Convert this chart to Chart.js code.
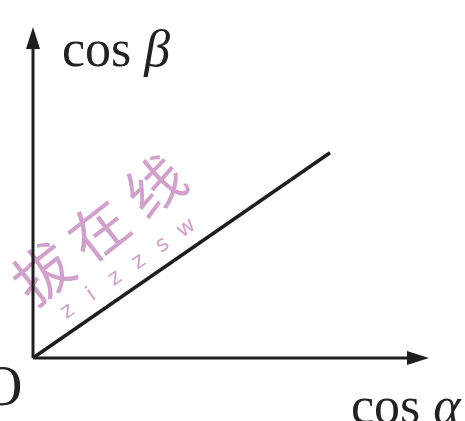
<!DOCTYPE html>
<html>
<head>
<meta charset="utf-8">
<style>
  html, body { margin: 0; padding: 0; background: #fff; }
  #wrap { width: 465px; height: 421px; position: relative; }
</style>
<script src="https://cdn.jsdelivr.net/npm/chart.js@4/dist/chart.umd.min.js"></script>
</head>
<body>
<div id="wrap"><canvas id="grafica"></canvas></div>
<script>
// Datos de la recta (cos α, cos β)
const cosAlfa = [0, 7.5];
const cosBeta = [0, 6.2];
const ejeMax = 10;
const etiquetaX = 'cos ';
const etiquetaY = 'cos ';
const letraX = 'α';
const letraY = 'β';
const origen = 'O';

const puntos = cosAlfa.map((x, i) => ({ x, y: cosBeta[i] }));

// Dibuja ejes con flechas y textos
const ejesPlugin = {
    id: 'ejes',
    beforeDatasetsDraw(chart) {
        const { ctx, scales } = chart;
        const x0 = scales.x.getPixelForValue(0);
        const y0 = scales.y.getPixelForValue(0);
        const xFin = scales.x.getPixelForValue(ejeMax);
        const yFin = scales.y.getPixelForValue(ejeMax);

        // marca de agua
        ctx.save();
        ctx.fillStyle = 'rgba(205, 150, 198, 0.9)';
        ctx.translate(98, 230);
        ctx.rotate(-38 * Math.PI / 180);
        ctx.font = '58px "Noto Sans CJK SC"';
        ctx.textAlign = 'center';
        ctx.textBaseline = 'middle';
        ctx.fillText('拔', -70, 0);
        ctx.fillText('在', 0, 0);
        ctx.fillText('线', 72, 0);
        ctx.restore();

        ctx.save();
        ctx.fillStyle = 'rgba(205, 150, 198, 0.9)';
        ctx.translate(127, 270);
        ctx.rotate(-35 * Math.PI / 180);
        ctx.font = '22px "DejaVu Sans"';
        ctx.textAlign = 'center';
        ctx.textBaseline = 'middle';
        'zizzsw'.split('').forEach((c, i) => ctx.fillText(c, (i - 2.5) * 29, 0));
        ctx.restore();

        ctx.save();
        ctx.strokeStyle = '#1e1e1e';
        ctx.fillStyle = '#1e1e1e';
        ctx.lineWidth = 3;
        ctx.beginPath();
        ctx.moveTo(x0, y0);
        ctx.lineTo(xFin - 14, y0);
        ctx.moveTo(x0, y0);
        ctx.lineTo(x0, yFin + 14);
        ctx.stroke();

        // flechas
        ctx.beginPath();
        ctx.moveTo(xFin, y0);
        ctx.lineTo(xFin - 22, y0 - 7);
        ctx.lineTo(xFin - 22, y0 + 7);
        ctx.closePath();
        ctx.fill();
        ctx.beginPath();
        ctx.moveTo(x0, yFin);
        ctx.lineTo(x0 - 7, yFin + 22);
        ctx.lineTo(x0 + 7, yFin + 22);
        ctx.closePath();
        ctx.fill();

        // textos
        ctx.fillStyle = '#222';
        ctx.textBaseline = 'alphabetic';
        ctx.font = '52px "Liberation Serif"';
        ctx.fillText(etiquetaY, 62, 66);
        ctx.fillText(etiquetaX, 351, 423);
        const anchoY = ctx.measureText(etiquetaY).width;
        const anchoX = ctx.measureText(etiquetaX).width;
        ctx.font = 'italic 52px "Liberation Serif"';
        ctx.fillText(letraY, 62 + anchoY, 66);
        ctx.fillText(letraX, 351 + anchoX, 423);
        ctx.font = '56px "Liberation Serif"';
        ctx.fillText(origen, -18, 405);
        ctx.restore();
    }
};

new Chart(document.getElementById('grafica').getContext('2d'), {
    type: 'line',
    data: {
        datasets: [{
            data: puntos,
            borderColor: '#1e1e1e',
            borderWidth: 3.5,
            pointRadius: 0,
            tension: 0
        }]
    },
    options: {
        responsive: true,
        maintainAspectRatio: false,
        animation: false,
        layout: { padding: { left: 33, right: 36, top: 27, bottom: 63 } },
        plugins: { legend: { display: false }, tooltip: { enabled: false } },
        scales: {
            x: { type: 'linear', min: 0, max: ejeMax, display: false },
            y: { type: 'linear', min: 0, max: ejeMax, display: false }
        }
    },
    plugins: [ejesPlugin]
});
</script>
</body>
</html>
